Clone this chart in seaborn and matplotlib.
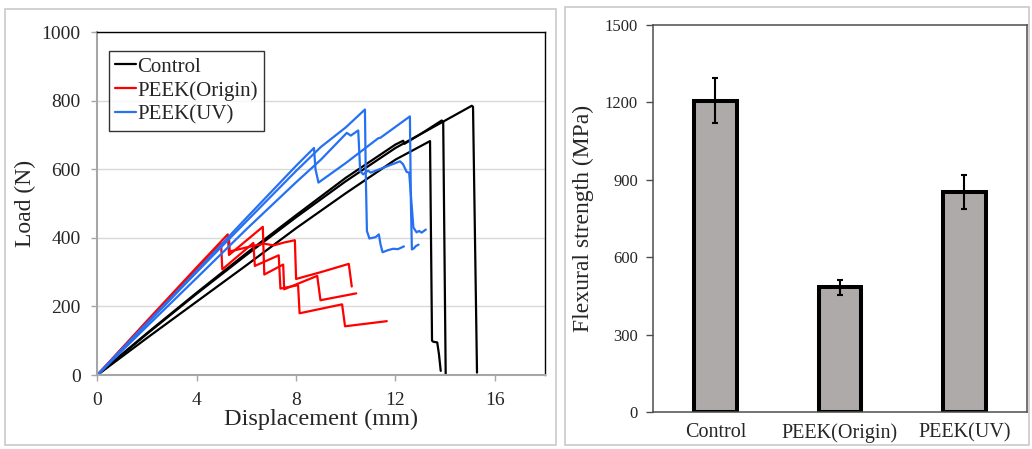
#Flexural test figure: load-displacement curves and flexural strength bars
import pandas as pd
import seaborn as sb
import matplotlib.pyplot as plt
from matplotlib.patches import Rectangle

#load-displacement curves, three specimens per group
Control_1_x = [0, 2, 4, 6, 8, 10, 12, 13, 14, 15.07, 15.12, 15.28]
Control_1_y = [0, 120, 237, 350, 460, 565, 662, 702, 742, 785, 782, 7]
Control_2_x = [0, 2, 4, 6, 8, 10, 12, 12.31, 12.36, 13, 13.86, 13.92, 14.02]
Control_2_y = [0, 122, 240, 355, 466, 575, 672, 683, 674, 702, 742, 738, 0]
Control_3_x = [0, 2, 4, 6, 8, 10, 12, 13.39, 13.47, 13.52, 13.6, 13.68, 13.75, 13.82]
Control_3_y = [0, 108, 214, 320, 428, 530, 628, 682, 100, 97, 96, 95, 60, 12]

Origin_1_x = [0, 2, 4, 5.25, 5.3, 6.66, 6.72, 7.48, 7.52, 8.85, 8.98, 10.42]
Origin_1_y = [0, 158, 314, 410, 350, 432, 293, 322, 250, 289, 218, 238]
Origin_2_x = [0, 2, 4, 4.98, 5.03, 6.28, 6.34, 7.3, 7.37, 8.08, 8.14, 9.85, 9.97, 11.65]
Origin_2_y = [0, 155, 308, 383, 308, 385, 318, 349, 252, 262, 180, 206, 142, 157]
Origin_3_x = [0, 2, 4, 5.3, 5.33, 6.0, 6.7, 7.1, 7.5, 7.95, 8.0, 9.0, 10.12, 10.24]
Origin_3_y = [0, 151, 302, 400, 360, 372, 383, 378, 386, 393, 280, 300, 324, 258]

UV_1_x = [0, 2, 4, 6, 8, 9, 10, 10.77, 10.8, 10.85, 10.95, 11.2, 11.33, 11.4, 11.48, 11.7, 11.9, 12.1, 12.34]
UV_1_y = [0, 150, 300, 448, 595, 665, 722, 774, 600, 420, 398, 402, 410, 380, 358, 364, 368, 367, 375]
UV_2_x = [0, 2, 4, 6, 8, 8.72, 8.78, 8.9, 10, 11.3, 11.4, 12.58, 12.62, 12.66, 12.75, 12.82, 12.93]
UV_2_y = [0, 152, 304, 458, 610, 662, 600, 561, 618, 690, 692, 754, 500, 366, 370, 376, 380]
UV_3_x = [0, 2, 4, 6, 8, 9, 10.04, 10.2, 10.5, 10.58, 10.7, 10.9, 11.0, 12.18, 12.3, 12.45, 12.55, 12.72, 12.85, 12.95, 13.05, 13.22]
UV_3_y = [0, 142, 283, 425, 562, 628, 706, 698, 713, 594, 585, 596, 590, 623, 615, 592, 590, 430, 416, 420, 415, 424]

#flexural strength bars
Groups = ['Control', 'PEEK(Origin)', 'PEEK(UV)']
Strength = [1207, 485, 855]
Strength_err = [87, 29, 66]

#building one long table for seaborn
curves = [
    ('Control', 'c1', Control_1_x, Control_1_y),
    ('Control', 'c2', Control_2_x, Control_2_y),
    ('Control', 'c3', Control_3_x, Control_3_y),
    ('PEEK(Origin)', 'o1', Origin_1_x, Origin_1_y),
    ('PEEK(Origin)', 'o2', Origin_2_x, Origin_2_y),
    ('PEEK(Origin)', 'o3', Origin_3_x, Origin_3_y),
    ('PEEK(UV)', 'u1', UV_1_x, UV_1_y),
    ('PEEK(UV)', 'u2', UV_2_x, UV_2_y),
    ('PEEK(UV)', 'u3', UV_3_x, UV_3_y),
]
rows = []
for group, spec, xs, ys in curves:
    for i in range(len(xs)):
        rows.append({'Displacement': xs[i], 'Load': ys[i], 'Group': group, 'Specimen': spec, 'Order': i})
Curve_data = pd.DataFrame(rows)

sb.set_style('white')
plt.rcParams['font.family'] = ['Liberation Serif', 'DejaVu Serif']
plt.rcParams['mathtext.fontset'] = 'stix'

fig = plt.figure(figsize=(10.32, 4.49), dpi=100)

#light grey panel frames
fig.add_artist(Rectangle((5/1032, 1-445/449), 551/1032, 436/449, transform=fig.transFigure,
                         fill=False, edgecolor='#C9C9C9', linewidth=1.2))
fig.add_artist(Rectangle((565/1032, 1-445/449), 464/1032, 438/449, transform=fig.transFigure,
                         fill=False, edgecolor='#C9C9C9', linewidth=1.2))

#left panel: load vs displacement
ax1 = fig.add_axes([0.0943, 0.1648, 0.4334, 0.7639])
Colors = {'Control': 'black', 'PEEK(Origin)': '#FF0000', 'PEEK(UV)': '#2571F2'}
sb.lineplot(data=Curve_data, x='Displacement', y='Load', hue='Group', units='Specimen',
            estimator=None, sort=False, hue_order=Groups, palette=Colors,
            linewidth=1.6, ax=ax1)
ax1.set_xlim(0, 18)
ax1.set_ylim(0, 1000)
ax1.set_xticks([0, 4, 8, 12, 16])
ax1.set_yticks([0, 200, 400, 600, 800, 1000])
ax1.yaxis.grid(True, color='#D9D9D9', linewidth=1)
ax1.set_axisbelow(True)
for side in ['top', 'right']:
    ax1.spines[side].set_color('black')
    ax1.spines[side].set_linewidth(1)
for side in ['left', 'bottom']:
    ax1.spines[side].set_color('#A6A6A6')
    ax1.spines[side].set_linewidth(1.5)
ax1.tick_params(axis='both', direction='out', length=4, width=1, color='#A6A6A6',
                labelsize=14, pad=8, left=True, bottom=True)
ax1.set_xlabel('Displacement (mm)', fontsize=17.5, labelpad=0)
ax1.set_ylabel('Load (N)', fontsize=17, labelpad=4)
handles, labels = ax1.get_legend_handles_labels()
leg = ax1.legend(handles, labels, loc='upper left', bbox_to_anchor=(0.026, 0.945),
                 fontsize=15, frameon=True, fancybox=False, edgecolor='black',
                 handlelength=1.0, handletextpad=0.05, borderpad=0.3, labelspacing=0.2,
                 borderaxespad=0)
leg.get_frame().set_linewidth(1)

#right panel: flexural strength
ax2 = fig.add_axes([0.633, 0.0817, 0.3618, 0.8626])
sb.barplot(x=Groups, y=Strength, color='#AEAAAA', saturation=1, edgecolor='black',
           linewidth=2.9, width=0.34, errorbar=None, ax=ax2)
for bar, m, e in zip(ax2.patches, Strength, Strength_err):
    cx = bar.get_x() + bar.get_width() / 2
    ax2.errorbar(cx, m, yerr=e, fmt='none', ecolor='black', elinewidth=1.5,
                 capsize=2.5, capthick=1.5, zorder=5)
ax2.set_ylim(0, 1500)
ax2.set_yticks([0, 300, 600, 900, 1200, 1500])
ax2.set_xlim(-0.5, 2.5)
for side in ['top', 'right', 'left', 'bottom']:
    ax2.spines[side].set_color('#4D4D4D')
    ax2.spines[side].set_linewidth(1.1)
ax2.tick_params(axis='y', direction='out', length=5, width=1, color='#4D4D4D',
                labelsize=12, pad=6, left=True)
ax2.tick_params(axis='x', length=0, labelsize=14.5, pad=8)
ax2.set_xlabel('')
ax2.set_ylabel('Flexural strength (MPa)', fontsize=17, labelpad=8)

plt.savefig('out.png', dpi=100)
plt.close()
